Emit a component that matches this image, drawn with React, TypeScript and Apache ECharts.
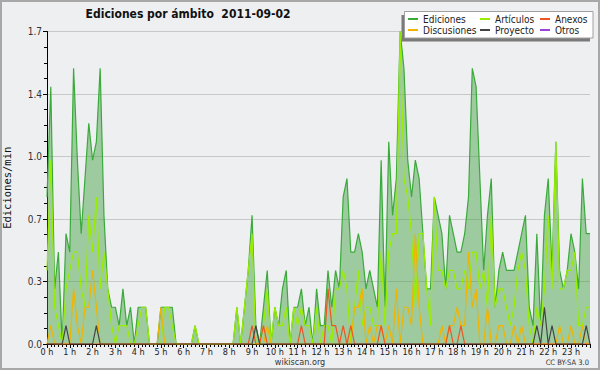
import React, { useEffect, useRef } from 'react';
import * as echarts from 'echarts';

// 10-minute bins over the day (index 0 = 00:00, 143 = 23:50), edits per minute
const hourLabels = ['0 h','1 h','2 h','3 h','4 h','5 h','6 h','7 h','8 h','9 h','10 h','11 h','12 h','13 h','14 h','15 h','16 h','17 h','18 h','19 h','20 h','21 h','22 h','23 h'];
const yTickLabels = ['0.0', '0.3', '0.7', '1.0', '1.4', '1.7'];

const ediciones = [
  0.8, 1.4, 0.3, 0.5, 0.0, 0.6, 0.5, 1.5, 1.0, 0.6, 0.9, 1.2,
  1.0, 1.1, 1.5, 0.7, 0.3, 0.2, 0.2, 0.1, 0.3, 0.1, 0.2, 0.0,
  0.2, 0.2, 0.2, 0.0, 0.0, 0.0, 0.2, 0.2, 0.2, 0.2, 0.0, 0.0,
  0.0, 0.0, 0.0, 0.1, 0.0, 0.0, 0.0, 0.0, 0.0, 0.0, 0.0, 0.0,
  0.0, 0.0, 0.2, 0.0, 0.2, 0.4, 0.7, 0.1, 0.0, 0.2, 0.4, 0.0,
  0.2, 0.1, 0.3, 0.4, 0.0, 0.2, 0.2, 0.3, 0.1, 0.2, 0.0, 0.3,
  0.1, 0.1, 0.4, 0.2, 0.4, 0.3, 0.8, 0.9, 0.5, 0.5, 0.6, 0.5,
  0.3, 0.4, 0.3, 0.2, 1.0, 0.2, 1.1, 0.7, 0.9, 1.7, 1.5, 1.0,
  0.8, 1.0, 0.9, 0.6, 0.3, 0.3, 0.8, 0.7, 0.6, 0.3, 0.7, 0.6,
  0.5, 0.5, 0.6, 0.8, 1.5, 1.4, 0.9, 0.4, 0.7, 0.9, 0.2, 0.4,
  0.5, 0.4, 0.4, 0.4, 0.5, 0.6, 0.7, 0.2, 0.1, 0.6, 0.1, 0.7,
  0.9, 0.4, 1.1, 0.4, 0.3, 0.4, 0.6, 0.5, 0.3, 0.9, 0.6, 0.6,
];

const articulos = [
  0.4, 1.0, 0.2, 0.1, 0.0, 0.3, 0.4, 0.5, 0.5, 0.3, 0.2, 0.7,
  0.5, 0.8, 0.3, 0.5, 0.3, 0.1, 0.0, 0.1, 0.1, 0.1, 0.0, 0.0,
  0.1, 0.2, 0.2, 0.0, 0.0, 0.0, 0.0, 0.2, 0.2, 0.1, 0.0, 0.0,
  0.0, 0.0, 0.0, 0.1, 0.0, 0.0, 0.0, 0.0, 0.0, 0.0, 0.0, 0.0,
  0.0, 0.0, 0.2, 0.0, 0.2, 0.4, 0.6, 0.0, 0.0, 0.1, 0.3, 0.0,
  0.2, 0.1, 0.1, 0.2, 0.0, 0.2, 0.1, 0.2, 0.1, 0.1, 0.0, 0.2,
  0.0, 0.1, 0.1, 0.0, 0.3, 0.3, 0.4, 0.3, 0.0, 0.2, 0.4, 0.1,
  0.2, 0.2, 0.1, 0.1, 0.5, 0.1, 0.5, 0.6, 0.6, 1.7, 0.9, 0.8,
  0.6, 0.2, 0.6, 0.6, 0.3, 0.1, 0.8, 0.4, 0.4, 0.3, 0.4, 0.4,
  0.3, 0.3, 0.4, 0.3, 0.5, 0.5, 0.3, 0.4, 0.2, 0.7, 0.2, 0.3,
  0.3, 0.2, 0.1, 0.2, 0.4, 0.5, 0.4, 0.1, 0.0, 0.2, 0.1, 0.3,
  0.7, 0.3, 1.1, 0.3, 0.3, 0.4, 0.4, 0.5, 0.1, 0.1, 0.2, 0.2,
];

const discusiones = [
  0, 0.1, 0, 0, 0, 0, 0, 0.3, 0.1, 0, 0.2, 0.2,
  0.4, 0.2, 0, 0, 0, 0, 0, 0, 0, 0, 0, 0,
  0, 0, 0, 0, 0, 0, 0.2, 0, 0, 0, 0, 0,
  0, 0, 0, 0, 0, 0, 0, 0, 0, 0, 0, 0,
  0, 0, 0, 0, 0, 0, 0, 0, 0, 0, 0.1, 0,
  0, 0, 0, 0, 0, 0, 0, 0, 0, 0, 0, 0,
  0, 0, 0, 0, 0, 0, 0, 0, 0, 0.2, 0.2, 0.3,
  0, 0.1, 0, 0.1, 0.1, 0, 0.1, 0, 0.3, 0, 0.2, 0.2,
  0.1, 0.6, 0.2, 0, 0, 0, 0, 0, 0.1, 0, 0.1, 0.1,
  0.2, 0.1, 0.1, 0.5, 0.2, 0.3, 0, 0, 0.2, 0, 0, 0.1,
  0.1, 0, 0, 0.1, 0, 0.1, 0, 0, 0, 0, 0, 0,
  0, 0, 0, 0.1, 0, 0, 0.1, 0, 0, 0.1, 0, 0,
];

const anexos = [
  0, 0, 0, 0, 0, 0, 0, 0, 0, 0, 0, 0,
  0, 0, 0, 0, 0, 0, 0, 0, 0, 0, 0, 0,
  0, 0, 0, 0, 0, 0, 0, 0, 0, 0, 0, 0,
  0, 0, 0, 0, 0, 0, 0, 0, 0, 0, 0, 0,
  0, 0, 0, 0, 0, 0, 0.1, 0, 0, 0.1, 0, 0,
  0, 0, 0, 0, 0, 0, 0, 0.1, 0, 0, 0, 0,
  0, 0, 0.3, 0.1, 0.1, 0, 0.1, 0, 0.1, 0, 0, 0,
  0, 0, 0, 0, 0.1, 0, 0, 0, 0, 0, 0, 0,
  0, 0, 0, 0, 0, 0, 0, 0, 0, 0, 0.1, 0,
  0, 0.1, 0, 0, 0, 0, 0, 0, 0, 0, 0, 0,
  0, 0, 0, 0, 0, 0, 0, 0, 0, 0, 0, 0,
  0, 0, 0, 0, 0, 0, 0, 0, 0, 0, 0, 0,
];

const proyecto = [
  0, 0, 0, 0, 0, 0.1, 0, 0, 0, 0, 0, 0,
  0, 0.1, 0, 0, 0, 0, 0, 0, 0, 0, 0, 0,
  0, 0, 0, 0, 0, 0, 0, 0, 0, 0, 0, 0,
  0, 0, 0, 0, 0, 0, 0, 0, 0, 0, 0, 0,
  0, 0, 0, 0, 0, 0, 0, 0.1, 0, 0, 0, 0,
  0, 0, 0, 0, 0, 0, 0, 0, 0, 0, 0, 0,
  0, 0, 0, 0, 0, 0, 0, 0, 0, 0, 0, 0,
  0, 0, 0, 0, 0, 0, 0, 0, 0, 0, 0, 0,
  0, 0, 0, 0, 0, 0, 0, 0, 0, 0, 0, 0,
  0, 0, 0, 0, 0, 0, 0, 0, 0, 0, 0, 0,
  0, 0, 0, 0, 0, 0, 0, 0, 0, 0.1, 0, 0.2,
  0, 0.1, 0, 0, 0, 0, 0, 0, 0, 0, 0.1, 0,
];

const otros: number[] = [];

const FONT = '"DejaVu Sans Condensed", "Liberation Sans Narrow", "DejaVu Sans"';

export default function App() {
  const ref = useRef<HTMLDivElement>(null);

  useEffect(() => {
    const chart = echarts.init(ref.current!, null, { renderer: 'svg' });
    const toPts = (a: number[]) => a.map((v, i) => [i, v]);
    const mkLine = (name: string, data: number[], color: string, extra: any = {}) => ({
      type: 'line',
      name,
      data: toPts(data),
      showSymbol: false,
      symbol: 'none',
      lineStyle: { color, width: 1.2 },
      itemStyle: { color },
      emphasis: { disabled: true },
      ...extra,
    });
    const legendBase = {
      orient: 'vertical',
      top: 13.5,
      itemWidth: 10,
      itemHeight: 2,
      itemGap: 0,
      padding: 0,
      icon: 'rect',
      selectedMode: false,
      textStyle: { fontFamily: FONT, fontSize: 10, color: '#222', lineHeight: 11 },
    };

    chart.setOption({
      animation: false,
      backgroundColor: '#eeeff1',
      textStyle: { fontFamily: FONT },
      grid: { left: 47, right: 10, top: 31.5, bottom: 26, outerBoundsMode: 'none', containLabel: false },
      xAxis: {
        type: 'value',
        min: 0,
        max: 143,
        interval: 6,
        axisLine: { show: true, onZero: false, lineStyle: { color: '#000', width: 1 } },
        axisTick: { show: true, length: 4, lineStyle: { color: '#000' } },
        minorTick: { show: true, splitNumber: 6, length: 3, lineStyle: { color: '#000' } },
        splitLine: { show: false },
        axisLabel: {
          formatter: (v: number) => (v % 6 === 0 ? hourLabels[v / 6] ?? '' : ''),
          fontSize: 9,
          color: '#222',
          margin: 3,
          lineHeight: 9,
          fontFamily: FONT,
        },
      },
      yAxis: {
        type: 'value',
        min: 0,
        max: 1.7,
        interval: 0.34,
        name: 'Ediciones/min',
        nameLocation: 'middle',
        nameGap: 35,
        nameTextStyle: { fontFamily: 'DejaVu Sans Mono', fontSize: 10.5, color: '#111' },
        axisLine: { show: true, lineStyle: { color: '#000', width: 1 } },
        axisTick: { show: true, length: 4, lineStyle: { color: '#000' } },
        minorTick: { show: true, splitNumber: 4, length: 3, lineStyle: { color: '#000' } },
        splitLine: { show: true, lineStyle: { color: '#c8c8c8', width: 1 } },
        axisLabel: {
          formatter: (v: number) => yTickLabels[Math.round(v / 0.34)] ?? '',
          fontSize: 10,
          color: '#333',
          margin: 5,
          fontFamily: FONT,
        },
      },
      legend: [
        { ...legendBase, left: 408, data: ['Ediciones', 'Discusiones'] },
        { ...legendBase, left: 480, data: ['Artículos', 'Proyecto'] },
        { ...legendBase, left: 540, data: ['Anexos', 'Otros'] },
      ],
      graphic: [
        {
          type: 'rect',
          z: -10,
          shape: { x: 1, y: 1, width: 598, height: 368 },
          style: { fill: 'none', stroke: '#a8a8a8', lineWidth: 2 },
          silent: true,
        },
        {
          type: 'rect',
          z: 1,
          shape: { x: 401.5, y: 15, width: 188.5, height: 26.5 },
          style: { fill: '#7a7a7a' },
          silent: true,
        },
        {
          type: 'rect',
          z: 2,
          shape: { x: 404.5, y: 11.5, width: 188.5, height: 26.5 },
          style: { fill: '#ffffff', stroke: '#a0a0a0', lineWidth: 1 },
          silent: true,
        },
        {
          type: 'text',
          x: 188,
          y: 14,
          style: {
            text: 'Ediciones por ámbito  2011-09-02',
            fontFamily: FONT,
            fontWeight: 'bold',
            fontSize: 12,
            fill: '#111',
            align: 'center',
            verticalAlign: 'middle',
          },
        },
        {
          type: 'text',
          x: 300,
          y: 362,
          style: {
            text: 'wikiscan.org',
            fontFamily: FONT,
            fontSize: 9,
            fill: '#333',
            align: 'center',
            verticalAlign: 'middle',
          },
        },
        {
          type: 'text',
          x: 589,
          y: 362,
          style: {
            text: 'CC BY-SA 3.0',
            fontFamily: FONT,
            fontSize: 7.5,
            fill: '#333',
            align: 'right',
            verticalAlign: 'middle',
          },
        },
      ],
      series: [
        mkLine('Ediciones', ediciones, '#3aaa3a', {
          areaStyle: { color: '#339933', opacity: 0.43 },
          z: 2,
        }),
        mkLine('Artículos', articulos, '#99ee00', { z: 3 }),
        mkLine('Discusiones', discusiones, '#f0b400', { z: 4 }),
        mkLine('Anexos', anexos, '#ee5522', { z: 5 }),
        mkLine('Proyecto', proyecto, '#444444', { z: 6 }),
        mkLine('Otros', otros, '#9944dd', { z: 7 }),
      ],
    });

    return () => chart.dispose();
  }, []);

  return (
    <div
      ref={ref}
      style={{ position: 'absolute', left: 0, top: 0, width: 600, height: 370 }}
    />
  );
}
